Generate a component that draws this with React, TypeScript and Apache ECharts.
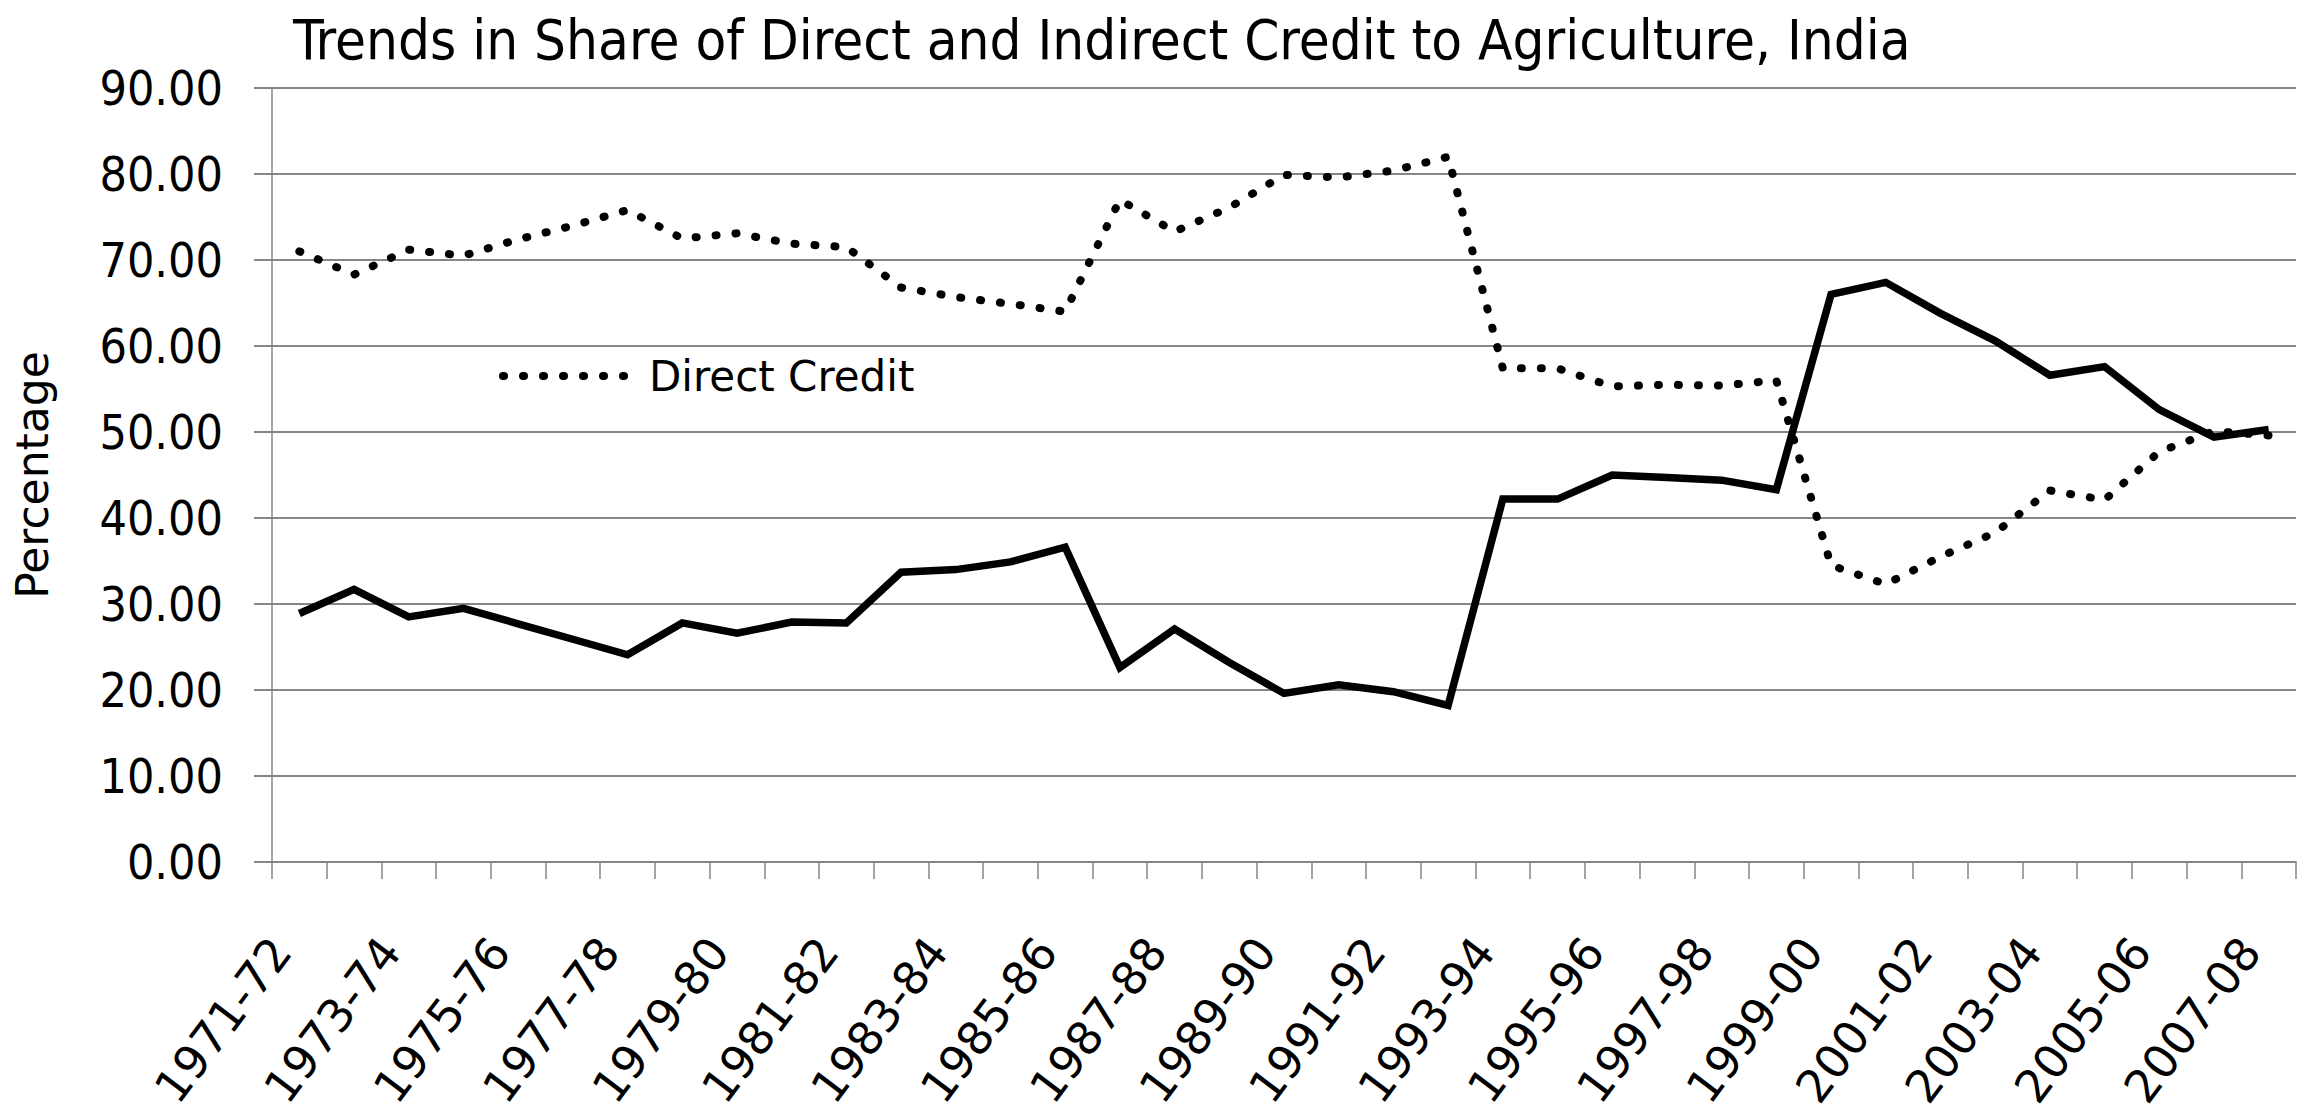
import React, { useEffect, useRef } from "react";
import * as echarts from "echarts";

const categories = [
  "1971-72", "1972-73", "1973-74", "1974-75", "1975-76", "1976-77", "1977-78", "1978-79",
  "1979-80", "1980-81", "1981-82", "1982-83", "1983-84", "1984-85", "1985-86", "1986-87",
  "1987-88", "1988-89", "1989-90", "1990-91", "1991-92", "1992-93", "1993-94", "1994-95",
  "1995-96", "1996-97", "1997-98", "1998-99", "1999-00", "2000-01", "2001-02", "2002-03",
  "2003-04", "2004-05", "2005-06", "2006-07", "2007-08",
];

const directCredit = [
  71.0, 68.3, 71.2, 70.5, 72.4, 74.0, 75.8, 72.5, 73.1, 71.9, 71.5, 66.8, 65.7, 64.9, 64.0,
  77.0, 73.3, 76.1, 79.9, 79.6, 80.4, 82.0, 57.4, 57.4, 55.3, 55.5, 55.4, 56.0, 34.5, 32.3,
  35.5, 38.3, 43.2, 42.1, 47.7, 50.1, 49.6,
];

const indirectCredit = [
  28.9, 31.7, 28.5, 29.5, 27.7, 25.9, 24.1, 27.8, 26.6, 27.9, 27.8, 33.7, 34.0, 34.9, 36.6,
  22.6, 27.1, 23.2, 19.6, 20.6, 19.8, 18.2, 42.2, 42.2, 45.0, 44.7, 44.4, 43.3, 66.0, 67.4,
  63.8, 60.6, 56.6, 57.6, 52.6, 49.4, 50.3,
];

const TITLE = "Trends in Share of Direct and Indirect Credit to Agriculture, India";
const NARROW = "'Liberation Sans Narrow', 'DejaVu Sans Condensed', 'Arial Narrow', sans-serif";
const WIDE = "'DejaVu Sans', Verdana, sans-serif";
const GRAY = "#868686";

export default function App() {
  const ref = useRef<HTMLDivElement>(null);
  useEffect(() => {
    document.body.style.margin = "0";
    if (!ref.current) return;
    const chart = echarts.init(ref.current, undefined, { renderer: "svg" });
    chart.setOption({
      animation: false,
      backgroundColor: "#ffffff",
      title: {
        text: TITLE,
        left: 288,
        top: 6,
        textStyle: { fontFamily: NARROW, fontSize: 56, fontWeight: "normal", color: "#000" },
      },
      legend: {
        data: ["Direct Credit"],
        left: 494,
        top: 350,
        itemWidth: 128,
        itemHeight: 14,
        itemStyle: { opacity: 0 },
        lineStyle: { color: "#000", width: 8, type: [1, 19], cap: "round" },
        textStyle: { fontFamily: WIDE, fontSize: 42, color: "#000", padding: [0, 0, 0, 13] },
      },
      grid: { left: 272, right: 2, top: 88, bottom: 258, containLabel: false, outerBoundsMode: "none" },
      xAxis: {
        type: "category",
        data: categories,
        boundaryGap: true,
        axisLine: { show: true, lineStyle: { color: GRAY, width: 2 } },
        axisTick: { show: true, interval: 0, length: 17, lineStyle: { color: GRAY, width: 1.5 } },
        axisLabel: {
          interval: 1,
          rotate: 53,
          margin: 95,
          align: "right",
          verticalAlign: "bottom",
          fontFamily: WIDE,
          fontSize: 46,
          color: "#000",
        },
      },
      yAxis: {
        type: "value",
        min: 0,
        max: 90,
        interval: 10,
        name: "Percentage",
        nameLocation: "middle",
        nameGap: 218,
        nameRotate: 90,
        nameTextStyle: { fontFamily: WIDE, fontSize: 44, color: "#000" },
        axisLine: { show: true, lineStyle: { color: GRAY, width: 1.5 } },
        axisTick: { show: true, length: 18, lineStyle: { color: GRAY, width: 2 } },
        axisLabel: {
          margin: 49,
          fontFamily: NARROW,
          fontSize: 48,
          color: "#000",
          formatter: (v: number) => v.toFixed(2),
        },
        splitLine: { show: true, lineStyle: { color: GRAY, width: 2 } },
      },
      series: [
        {
          name: "Direct Credit",
          type: "line",
          data: directCredit,
          symbol: "none",
          color: "#000",
          lineStyle: { color: "#000", width: 8, type: [1, 19], cap: "round" },
        },
        {
          name: "Indirect Credit",
          type: "line",
          data: indirectCredit,
          symbol: "none",
          color: "#000",
          lineStyle: { color: "#000", width: 7.5, type: "solid", join: "miter" },
        },
      ],
    });
    return () => chart.dispose();
  }, []);
  return <div ref={ref} style={{ width: 2298, height: 1120 }} />;
}
